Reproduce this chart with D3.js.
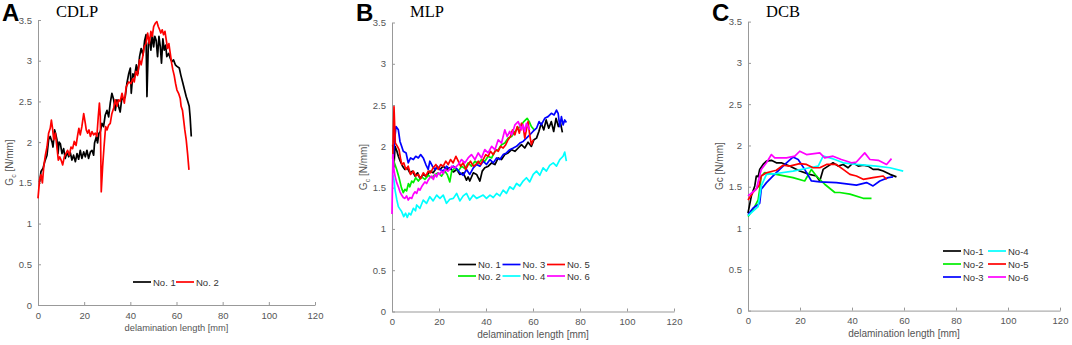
<!DOCTYPE html>
<html>
<head>
<meta charset="UTF-8">
<script src="https://d3js.org/d3.v7.min.js"></script>
<style>
  body { margin: 0; background: #fff; }
  svg { display: block; font-family: "Liberation Sans", Arial, sans-serif; }
  .tick text { fill: #555; font-size: 9.5px; }
  .axis path, .axis line { stroke: #999; }
</style>
</head>
<body>
<div id="chart"></div>
<script>
// axis ticks shared by all panels
var xTicks = [0, 20, 40, 60, 80, 100, 120];
var yTicks = [0, 0.5, 1, 1.5, 2, 2.5, 3, 3.5];

// A: CDLP  [delamination length mm, Gc N/mm]
var cdlpNo1 = [[0.7,1.51],[1.3,1.64],[2.2,1.68],[2.9,1.76],[3.9,1.84],[4.6,2.03],[5.3,2.07],[6.1,2.0],[6.5,1.94],[7.2,2.15],[7.6,2.11],[8.2,2.03],[8.7,1.86],[9.1,2.0],[9.7,1.98],[10.4,1.86],[11.1,1.92],[11.8,1.8],[12.6,1.88],[13.3,1.82],[14.0,1.87],[14.7,1.78],[15.4,1.84],[16.2,1.76],[16.9,1.86],[17.6,1.79],[18.3,1.9],[19.0,1.8],[19.8,1.88],[20.5,1.82],[21.2,1.9],[21.9,1.8],[22.7,1.88],[23.4,1.9],[24.1,1.84],[24.5,1.99],[25.3,2.07],[25.8,1.99],[26.4,2.11],[27.0,2.13],[27.7,2.23],[28.4,2.19],[29.1,2.33],[29.9,2.39],[30.6,2.31],[31.3,2.48],[32.0,2.6],[32.8,2.52],[33.5,2.39],[34.2,2.52],[34.9,2.44],[35.6,2.37],[36.4,2.56],[37.1,2.52],[37.8,2.56],[38.5,2.72],[39.3,2.84],[40.0,2.91],[40.4,2.6],[41.1,2.84],[41.8,2.8],[42.6,2.95],[43.3,2.84],[44.0,3.05],[44.7,3.15],[45.5,3.07],[46.2,3.25],[46.8,3.32],[47.2,2.56],[47.8,3.21],[48.3,3.27],[48.9,3.13],[49.5,3.32],[50.1,3.17],[50.6,3.3],[51.2,3.25],[51.8,3.05],[52.4,3.3],[53.0,3.17],[53.5,2.97],[54.1,3.27],[54.7,3.13],[55.3,3.19],[55.8,3.05],[56.6,3.09],[57.3,3.03],[58.0,2.99],[58.7,3.01],[59.5,2.95],[60.2,2.93],[61.2,2.91],[61.9,2.82],[62.8,2.72],[63.5,2.64],[64.2,2.56],[64.9,2.5],[65.5,2.44],[65.9,2.31],[66.4,2.07]];
var cdlpNo2 = [[0,1.31],[0.7,1.54],[1.3,1.6],[1.9,1.5],[2.5,1.7],[3.2,1.84],[3.9,1.94],[4.6,2.11],[5.3,2.17],[5.8,2.27],[6.3,2.17],[6.8,2.03],[7.5,2.11],[8.2,1.94],[8.8,1.78],[9.4,1.82],[10.0,1.78],[10.7,1.72],[11.4,1.82],[12.1,1.86],[12.8,1.9],[13.6,1.84],[14.3,1.94],[15.0,1.92],[15.7,2.01],[16.5,1.96],[17.2,2.09],[17.7,2.17],[18.3,2.09],[19.0,2.19],[19.8,2.35],[20.5,2.23],[20.9,2.15],[21.5,2.11],[22.1,2.15],[22.7,2.07],[23.4,2.13],[24.1,2.09],[24.8,2.11],[25.5,2.07],[26.1,2.31],[26.6,2.48],[27.0,2.31],[27.4,1.39],[28.0,1.7],[28.6,1.94],[29.3,2.19],[29.9,2.15],[30.6,2.21],[31.3,2.23],[32.0,2.35],[32.8,2.42],[33.5,2.52],[34.2,2.44],[34.9,2.52],[35.6,2.5],[36.4,2.6],[37.4,2.48],[38.2,2.68],[39.3,2.74],[40.3,2.72],[41.1,2.78],[41.7,2.74],[42.4,2.87],[43.1,2.82],[44.0,3.01],[44.7,2.95],[45.5,3.07],[46.0,3.17],[46.8,3.21],[47.5,3.34],[48.2,3.21],[48.9,3.36],[49.5,3.3],[50.1,3.42],[50.8,3.46],[51.5,3.48],[52.1,3.42],[52.7,3.38],[53.2,3.34],[53.8,3.38],[54.4,3.32],[55.0,3.36],[55.6,3.25],[56.1,3.15],[56.7,3.21],[57.3,3.09],[57.9,2.97],[58.4,2.89],[59.0,2.82],[59.6,2.72],[60.2,2.64],[60.9,2.6],[61.6,2.54],[62.0,2.44],[62.6,2.39],[63.1,2.27],[63.6,2.15],[64.2,2.03],[64.8,1.86],[65.4,1.66]];
var cdlpLabels = ["No. 1", "No. 2"];

// B: MLP
var mlpNo1 = [[0.3,2.02],[0.8,1.75],[1.3,2.0],[2.0,1.95],[2.7,1.88],[3.5,1.82],[4.5,1.76],[5.5,1.72],[6.5,1.74],[7.6,1.68],[8.7,1.7],[9.8,1.64],[10.9,1.68],[11.9,1.61],[13.3,1.66],[14.7,1.63],[16.1,1.7],[17.5,1.68],[19.0,1.74],[20.4,1.72],[21.8,1.76],[23.2,1.72],[24.6,1.74],[26.1,1.69],[27.5,1.72],[28.9,1.66],[30.3,1.68],[31.7,1.59],[32.4,1.63],[33.1,1.58],[34.6,1.68],[36.0,1.66],[37.4,1.58],[38.4,1.7],[39.5,1.74],[41.0,1.76],[42.4,1.8],[43.8,1.78],[45.2,1.86],[46.6,1.84],[48.0,1.9],[49.4,1.92],[50.9,1.96],[52.3,1.94],[53.7,1.98],[55.1,2.02],[56.5,1.98],[57.9,2.05],[59.3,2.0],[60.4,2.08],[61.5,2.1],[62.5,2.18],[63.5,2.28],[64.6,2.2],[65.6,2.32],[66.7,2.22],[67.8,2.3],[68.8,2.18],[69.8,2.34],[70.8,2.24],[71.6,2.3],[72.5,2.17]];
var mlpNo2 = [[0.3,1.88],[1.0,1.8],[2.0,1.72],[3.0,1.62],[4.0,1.5],[4.8,1.44],[5.5,1.48],[6.2,1.46],[7.0,1.55],[7.6,1.51],[8.4,1.58],[9.1,1.56],[10.1,1.62],[11.2,1.58],[12.6,1.63],[14.0,1.6],[15.4,1.65],[16.9,1.62],[18.3,1.66],[19.7,1.68],[21.1,1.64],[22.5,1.7],[23.5,1.66],[24.6,1.57],[25.4,1.7],[26.8,1.74],[28.2,1.7],[29.6,1.76],[31.0,1.73],[32.4,1.8],[33.8,1.76],[35.3,1.82],[36.7,1.79],[38.1,1.84],[39.5,1.82],[40.9,1.88],[42.4,1.86],[43.8,1.94],[45.2,1.96],[46.6,2.02],[48.0,2.04],[49.4,2.1],[50.9,2.12],[52.3,2.18],[53.7,2.22],[55.1,2.26],[56.1,2.3],[57.5,2.34],[58.4,2.3],[59.3,2.24],[60.5,2.2]];
var mlpNo3 = [[0.6,1.88],[1.2,2.1],[1.7,2.24],[2.7,2.2],[3.4,2.06],[4.1,2.0],[4.8,1.94],[6.0,1.92],[6.9,1.8],[7.9,1.86],[9.1,1.84],[10.1,1.88],[11.2,1.86],[12.2,1.9],[13.3,1.86],[14.4,1.78],[15.4,1.72],[16.1,1.82],[17.2,1.76],[18.3,1.72],[19.3,1.76],[20.4,1.72],[21.8,1.7],[23.2,1.76],[24.6,1.72],[26.1,1.76],[27.5,1.73],[28.9,1.68],[30.3,1.65],[31.7,1.72],[33.1,1.66],[34.6,1.74],[36.0,1.78],[37.4,1.76],[38.8,1.82],[40.2,1.78],[41.7,1.84],[43.1,1.8],[44.5,1.86],[45.9,1.84],[47.3,1.9],[48.7,1.92],[50.1,1.96],[51.6,1.98],[53.0,2.0],[54.4,2.04],[55.8,2.06],[57.2,2.1],[58.6,2.14],[60.0,2.18],[61.5,2.22],[62.6,2.3],[63.5,2.26],[65.0,2.34],[66.4,2.36],[67.8,2.4],[69.0,2.38],[70.0,2.44],[70.7,2.4],[71.4,2.24],[72.1,2.36],[72.8,2.26],[73.5,2.32],[74.2,2.29]];
var mlpNo4 = [[0.3,1.66],[0.8,1.6],[1.3,1.47],[2.0,1.36],[2.7,1.27],[3.4,1.24],[4.1,1.21],[5.0,1.15],[5.8,1.19],[6.5,1.14],[7.2,1.19],[8.0,1.17],[9.1,1.25],[10.0,1.22],[10.5,1.29],[11.9,1.25],[13.3,1.35],[14.7,1.31],[16.1,1.39],[17.5,1.34],[19.0,1.41],[20.4,1.37],[21.8,1.41],[23.2,1.31],[24.6,1.36],[26.1,1.37],[27.5,1.43],[28.9,1.34],[30.3,1.4],[31.7,1.43],[33.1,1.35],[34.6,1.41],[36.0,1.37],[37.4,1.39],[38.8,1.41],[40.2,1.37],[41.7,1.41],[43.1,1.38],[44.5,1.43],[45.9,1.4],[47.3,1.47],[48.7,1.43],[50.1,1.51],[51.6,1.48],[53.0,1.55],[54.4,1.52],[55.8,1.58],[57.2,1.62],[58.6,1.57],[60.1,1.66],[61.5,1.7],[62.9,1.65],[64.3,1.74],[65.7,1.7],[67.1,1.77],[68.6,1.8],[70.0,1.76],[71.4,1.84],[72.8,1.88],[73.5,1.93],[74.2,1.82]];
var mlpNo5 = [[0.3,1.85],[0.85,2.48],[1.4,2.04],[2.3,2.0],[3.0,1.96],[3.7,1.84],[4.2,1.78],[5.0,1.8],[5.9,1.72],[6.9,1.76],[7.9,1.66],[9.1,1.7],[10.1,1.64],[11.2,1.66],[12.2,1.61],[13.3,1.68],[14.4,1.64],[15.4,1.7],[16.4,1.68],[17.5,1.74],[18.7,1.78],[19.7,1.72],[20.7,1.78],[21.8,1.76],[22.9,1.82],[23.9,1.78],[24.9,1.84],[26.0,1.8],[27.2,1.88],[28.2,1.82],[29.2,1.76],[30.3,1.8],[31.4,1.72],[32.4,1.78],[33.4,1.82],[34.6,1.76],[35.7,1.78],[36.7,1.82],[37.7,1.78],[38.8,1.84],[39.9,1.9],[40.9,1.88],[41.9,1.94],[43.1,1.9],[44.2,1.96],[45.2,1.94],[46.2,2.0],[47.3,1.98],[48.4,2.02],[49.4,2.08],[50.4,2.12],[51.3,2.2],[52.3,2.14],[53.3,2.24],[54.2,2.16],[55.1,2.28],[55.8,2.24],[56.5,2.1],[57.2,2.2],[57.9,2.3],[58.6,2.14],[59.3,2.02],[60.1,2.08]];
var mlpNo6 = [[0.0,1.18],[0.4,1.9],[0.8,1.72],[1.3,1.64],[2.0,1.56],[2.7,1.51],[3.4,1.45],[4.1,1.41],[4.8,1.38],[5.5,1.37],[6.2,1.4],[6.9,1.35],[7.6,1.38],[8.4,1.37],[9.1,1.42],[9.8,1.45],[10.5,1.43],[11.2,1.49],[11.9,1.47],[12.6,1.51],[13.3,1.54],[14.0,1.57],[14.7,1.55],[15.4,1.59],[16.1,1.62],[16.9,1.64],[17.6,1.6],[18.3,1.66],[19.0,1.63],[19.7,1.68],[20.4,1.66],[21.1,1.7],[21.8,1.67],[22.5,1.72],[23.9,1.7],[25.4,1.76],[26.8,1.74],[28.2,1.78],[29.6,1.84],[31.0,1.8],[32.4,1.86],[33.8,1.9],[35.3,1.84],[36.7,1.92],[38.1,1.86],[39.5,1.96],[40.9,1.92],[42.4,2.0],[43.8,1.96],[45.2,2.08],[46.6,2.04],[48.0,2.2],[49.0,2.12],[50.1,2.18],[51.0,2.14],[52.3,2.26],[53.7,2.3],[55.1,2.2],[55.8,2.26],[56.5,2.18],[57.2,2.28],[57.9,2.24],[58.6,2.2]];
var mlpLabels = ["No. 1", "No. 2", "No. 3", "No. 4", "No. 5", "No. 6"];

// C: DCB
var dcbNo1 = [[0,1.18],[1.3,1.39],[2.6,1.51],[3.2,1.63],[3.9,1.62],[4.5,1.71],[5.8,1.77],[7.1,1.81],[9.0,1.82],[10.9,1.79],[12.8,1.79],[16.0,1.75],[19.9,1.69],[23.7,1.65],[26.3,1.63],[27.6,1.57],[28.9,1.71],[30.8,1.75],[32.7,1.79],[34.7,1.75],[36.6,1.77],[38.5,1.73],[40.4,1.79],[42.4,1.75],[44.3,1.76],[46.2,1.75],[48.1,1.71],[50.1,1.71],[52.0,1.69],[54.6,1.65],[57.1,1.62]];
var dcbNo2 = [[0,1.14],[1.9,1.22],[3.9,1.34],[4.5,1.47],[5.1,1.63],[6.4,1.67],[10.9,1.65],[17.3,1.61],[21.8,1.57],[24.4,1.71],[26.3,1.63],[29.5,1.53],[33.4,1.43],[35.3,1.43],[39.2,1.41],[44.3,1.36],[47.5,1.36]];
var dcbNo3 = [[0,1.16],[1.9,1.24],[4.5,1.3],[5.1,1.47],[7.1,1.55],[10.9,1.67],[14.8,1.79],[17.3,1.86],[19.3,1.83],[21.8,1.71],[24.4,1.57],[27.6,1.56],[34.0,1.55],[41.7,1.52],[45.6,1.55],[48.1,1.51],[50.7,1.57],[53.9,1.61],[55.8,1.62]];
var dcbNo4 = [[0,1.15],[3.9,1.26],[5.1,1.51],[7.1,1.65],[10.9,1.66],[17.3,1.69],[23.7,1.73],[27.0,1.75],[28.9,1.87],[31.5,1.85],[33.4,1.83],[36.6,1.79],[41.7,1.77],[49.4,1.75],[54.6,1.73],[59.7,1.69]];
var dcbNo5 = [[0,1.34],[1.9,1.43],[4.2,1.51],[5.1,1.63],[7.1,1.67],[10.9,1.7],[13.5,1.76],[16.0,1.75],[19.9,1.78],[22.5,1.77],[25.0,1.73],[27.6,1.73],[30.2,1.77],[34.0,1.77],[36.6,1.71],[39.2,1.65],[41.7,1.63],[44.3,1.59],[48.1,1.61],[52.0,1.63],[53.3,1.59]];
var dcbNo6 = [[0,1.39],[3.2,1.47],[5.1,1.71],[7.1,1.79],[9.0,1.89],[10.3,1.85],[14.8,1.85],[18.0,1.87],[19.9,1.93],[22.5,1.89],[27.6,1.91],[29.5,1.85],[32.7,1.87],[35.9,1.83],[39.8,1.79],[41.7,1.8],[44.9,1.91],[46.9,1.83],[50.1,1.82],[53.3,1.77],[55.2,1.84]];
var dcbLabels = ["No-1", "No-2", "No-3", "No-4", "No-5", "No-6"];

var panels = [
  { letter: "A", title: "CDLP", left: 38, right: 315, top: 20, bottom: 305, yLabel: "c", xTitleSize: 9.3,
    series: [cdlpNo1, cdlpNo2], labels: cdlpLabels, colors: ["#000000", "#ff0000"],
    legend: { x: 133, y: 282, cols: 2, rows: 1, colW: 43, rowH: 0 } },
  { letter: "B", title: "MLP", left: 392, right: 674, top: 22.5, bottom: 311.5, yLabel: "c", xTitleSize: 10,
    series: [mlpNo1, mlpNo2, mlpNo3, mlpNo4, mlpNo5, mlpNo6], labels: mlpLabels,
    colors: ["#000000", "#00ee00", "#0000ff", "#00ffff", "#ff0000", "#ff00ff"],
    legend: { x: 458, y: 264.5, cols: 3, rows: 2, colW: 44.5, rowH: 11.5 } },
  { letter: "C", title: "DCB", left: 748, right: 1060, top: 21.6, bottom: 310.6, yLabel: "plain", xTitleSize: 10,
    series: [dcbNo1, dcbNo2, dcbNo3, dcbNo4, dcbNo5, dcbNo6], labels: dcbLabels,
    colors: ["#000000", "#00ee00", "#0000ff", "#00ffff", "#ff0000", "#ff00ff"],
    legend: { x: 943, y: 251, cols: 2, rows: 3, colW: 45, rowH: 13 } }
];

var svg = d3.select("#chart").append("svg")
  .attr("width", 1072).attr("height", 345);

panels.forEach(function(p) {
  var x = d3.scaleLinear().domain([0, 120]).range([p.left, p.right]);
  var y = d3.scaleLinear().domain([0, 3.5]).range([p.bottom, p.top]);

  // axes (ticks point inward like matlab)
  svg.append("g").attr("class", "axis")
    .attr("transform", "translate(0," + p.bottom + ")")
    .call(d3.axisBottom(x).tickValues(xTicks).tickSizeInner(-3).tickSizeOuter(0).tickPadding(7));
  svg.append("g").attr("class", "axis")
    .attr("transform", "translate(" + p.left + ",0)")
    .call(d3.axisLeft(y).tickValues(yTicks).tickFormat(d3.format("")).tickSizeInner(-3).tickSizeOuter(0).tickPadding(6));

  var line = d3.line().x(function(d) { return x(d[0]); }).y(function(d) { return y(d[1]); });

  p.series.forEach(function(s, i) {
    svg.append("path").datum(s)
      .attr("d", line)
      .attr("fill", "none")
      .attr("stroke", p.colors[i])
      .attr("stroke-width", 1.7)
      .attr("stroke-linejoin", "round");
  });

  // panel letter + title
  svg.append("text").attr("x", p.left - 36).attr("y", 21)
    .style("font-size", "24px").style("font-weight", "bold").text(p.letter);
  svg.append("text").attr("x", p.left + 18).attr("y", 17)
    .style("font-family", "'Liberation Serif', 'Times New Roman', serif")
    .style("font-size", "16.5px").text(p.title);

  // axis titles
  svg.append("text")
    .attr("x", (p.left + p.right) / 2).attr("y", p.bottom + 26)
    .attr("text-anchor", "middle").style("font-size", p.xTitleSize + "px").attr("fill", "#555")
    .text("delamination length [mm]");

  var yl = svg.append("text")
    .attr("transform", "translate(" + (p.left - 25) + "," + ((p.top + p.bottom) / 2) + ") rotate(-90)")
    .attr("text-anchor", "middle").style("font-size", "10px").attr("fill", "#555");
  if (p.yLabel === "c") {
    yl.append("tspan").text("G");
    yl.append("tspan").attr("dy", 3).style("font-size", "7px").text("c");
    yl.append("tspan").attr("dy", -3).text(" [N/mm]");
  } else {
    yl.text("Gc [N/mm]");
  }

  // legend, column-major like matlab NumColumns
  var L = p.legend;
  p.labels.forEach(function(lab, i) {
    var col, row;
    if (L.rows === 1) { col = i; row = 0; }
    else if (L.cols === 3) { col = Math.floor(i / 2); row = i % 2; }
    else { col = Math.floor(i / 3); row = i % 3; }
    var gx = L.x + col * L.colW, gy = L.y + row * L.rowH;
    svg.append("line").attr("x1", gx).attr("x2", gx + 18).attr("y1", gy).attr("y2", gy)
      .attr("stroke", p.colors[i]).attr("stroke-width", 1.7);
    svg.append("text").attr("x", gx + 20).attr("y", gy + 3.5)
      .style("font-size", "9.5px").attr("fill", "#333").text(lab);
  });
});
</script>
</body>
</html>
